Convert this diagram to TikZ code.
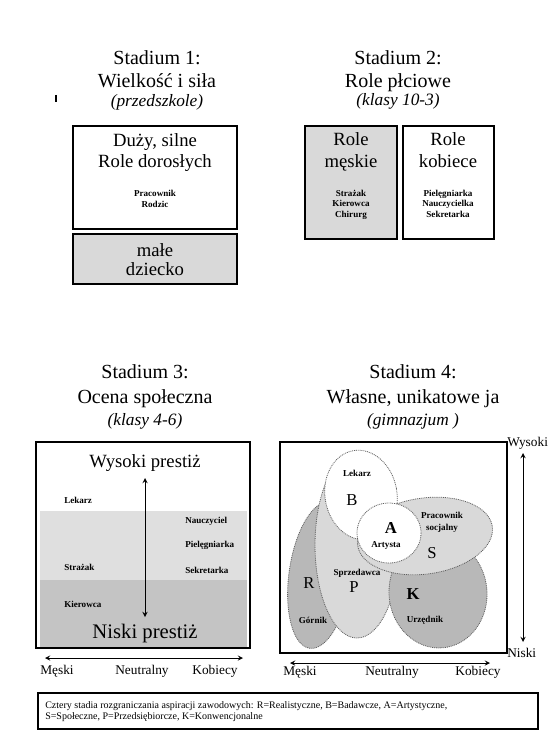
\documentclass[tikz,border=0pt]{standalone}
\usepackage{fontspec}
\setmainfont{Liberation Serif}
\usepackage{tikz}
\definecolor{lite}{RGB}{217, 217, 217}
\definecolor{band}{RGB}{223, 223, 223}
\definecolor{deep}{RGB}{196, 196, 196}
\definecolor{dark}{RGB}{184, 184, 184}
\definecolor{rim}{RGB}{95, 95, 95}

\begin{document}
\begin{tikzpicture}[
   x=0.75pt, y=-0.75pt,
   every node/.style={anchor=base, inner sep=0},
   head/.style={font=\fontsize{15}{18}\selectfont},
   grade/.style={font=\fontsize{13}{15}\selectfont\itshape},
   role/.style={font=\fontsize{14}{16}\selectfont},
   job/.style={font=\fontsize{6.8}{8}\selectfont\bfseries},
   axis/.style={font=\fontsize{10}{12}\selectfont},
   code/.style={font=\fontsize{12.5}{14}\selectfont, anchor=center},
   tag/.style={font=\fontsize{6.8}{8}\selectfont\bfseries, anchor=center},
   plate/.style={draw=black, line width=0.9},
   blob/.style={draw=rim, line width=0.6, dash pattern=on 0.7pt off 0.7pt}
  ]

  \useasboundingbox (0, 0) rectangle (551, 734);

  % Stadium 1
  \begin{scope}
    \node (st1) [head] at (157, 65) {Stadium 1:};
    \node (nm1) [head] at (157, 88) {Wielkość i siła};
    \node (ag1) [grade] at (157, 107) {(przedszkole)};
    \draw[line width=1.5] (56, 95) -- (56, 102);

    \draw[plate] (73, 126) rectangle (237, 229);
    \node (duzy) [role] at (155, 147) {Duży, silne};
    \node (doro) [role] at (155, 168) {Role dorosłych};
    \node (prac) [job] at (155, 197) {Pracownik};
    \node (rodz) [job] at (155, 208) {Rodzic};

    \draw[plate, fill=lite] (73, 234) rectangle (237, 284);
    \node (male) [role] at (155, 256) {małe};
    \node (dzie) [role] at (155, 275) {dziecko};
  \end{scope}

  % Stadium 2
  \begin{scope}
    \node (st2) [head] at (398, 65) {Stadium 2:};
    \node (nm2) [head] at (398, 88) {Role płciowe};
    \node (ag2) [grade] at (398, 106) {(klasy 10-3)};

    \draw[plate, fill=lite] (305, 126) rectangle (397, 239);
    \node (rm1) [role] at (351, 146) {Role};
    \node (rm2) [role] at (351, 168) {męskie};
    \node (stz) [job] at (351, 196) {Strażak};
    \node (kie) [job] at (351, 207) {Kierowca};
    \node (chi) [job] at (351, 218) {Chirurg};

    \draw[plate] (403, 126) rectangle (494, 239);
    \node (rk1) [role] at (448, 146) {Role};
    \node (rk2) [role] at (448, 168) {kobiece};
    \node (pie) [job] at (448, 196) {Pielęgniarka};
    \node (nau) [job] at (448, 207) {Nauczycielka};
    \node (sek) [job] at (448, 218) {Sekretarka};
  \end{scope}

  % Stadium 3
  \begin{scope}
    \node (st3) [head] at (145, 378) {Stadium 3:};
    \node (nm3) [head] at (145, 403) {Ocena społeczna};
    \node (ag3) [grade] at (145, 425) {(klasy 4-6)};

    \fill[band] (40, 511) rectangle (247, 580);
    \fill[deep] (40, 580) rectangle (247, 648);
    \draw[plate] (36, 442) rectangle (250, 648);

    \node (wys3) [role] at (145, 467) {Wysoki prestiż};
    \node (nis3) [role, font=\fontsize{15.5}{17}\selectfont] at (145, 638) {Niski prestiż};

    \node (lek3) [job, anchor=base west] at (64, 503) {Lekarz};
    \node (stz3) [job, anchor=base west] at (64, 570) {Strażak};
    \node (kie3) [job, anchor=base west] at (64, 607) {Kierowca};
    \node (nau3) [job, anchor=base west] at (185, 523) {Nauczyciel};
    \node (pie3) [job, anchor=base west] at (185, 547) {Pielęgniarka};
    \node (sek3) [job, anchor=base west] at (185, 573) {Sekretarka};

    \coordinate (s3up) at (145, 478);
    \coordinate (s3dn) at (145, 617);
    \coordinate (s3l) at (45, 658);
    \coordinate (s3r) at (243, 658);

    \node (me3) [axis] at (57, 674) {Męski};
    \node (ne3) [axis] at (142, 674) {Neutralny};
    \node (ko3) [axis] at (215, 674) {Kobiecy};
  \end{scope}

  % Stadium 4
  \begin{scope}
    \node (st4) [head] at (413, 378) {Stadium 4:};
    \node (nm4) [head] at (413, 403) {Własne, unikatowe ja};
    \node (ag4) [grade] at (413, 425) {(gimnazjum )};

    \draw[plate] (280, 442) rectangle (507, 653);

    % types, back to front
    \filldraw[blob, fill=dark, rotate around={-8:(320, 575)}] (320, 575) ellipse (31 and 74);
    \filldraw[blob, fill=lite] (357, 545) ellipse (42 and 93);
    \filldraw[blob, fill=white, rotate around={10:(361, 495)}] (361, 495) ellipse (36 and 45);
    \filldraw[blob, fill=dark, rotate around={5:(438, 593)}] (438, 593) ellipse (49 and 55);
    \filldraw[blob, fill=lite, rotate around={8:(425, 536)}] (425, 536) ellipse (68 and 38);
    \filldraw[blob, fill=white] (389, 533) ellipse (32 and 30);

    \node (lek4) [tag] at (357, 473) {Lekarz};
    \node (tB) [code] at (352, 500) {B};
    \node (tA) [code, font=\fontsize{12.5}{14}\selectfont\bfseries] at (391, 528) {A};
    \node (art) [tag] at (386, 545) {Artysta};
    \node (pc1) [tag] at (442, 515) {Pracownik};
    \node (pc2) [tag] at (442, 528) {socjalny};
    \node (tS) [code] at (432, 553) {S};
    \node (spr) [tag] at (357, 573) {Sprzedawca};
    \node (tP) [code] at (354, 587) {P};
    \node (tR) [code] at (309, 583) {R};
    \node (tK) [code, font=\fontsize{12.5}{14}\selectfont\bfseries] at (413, 594) {K};
    \node (gor) [tag] at (313, 620) {Górnik};
    \node (urz) [tag] at (425, 620) {Urzędnik};

    \node (wys4) [axis, anchor=base west] at (507, 446) {Wysoki};
    \node (nis4) [axis, anchor=base west] at (507, 657) {Niski};

    \coordinate (s4up) at (523, 453);
    \coordinate (s4dn) at (523, 642);
    \coordinate (s4l) at (290, 663);
    \coordinate (s4r) at (490, 663);

    \node (me4) [axis] at (300, 675) {Męski};
    \node (ne4) [axis] at (392, 675) {Neutralny};
    \node (ko4) [axis] at (478, 675) {Kobiecy};
  \end{scope}

  \foreach \B/\E in {s3up/s3dn, s3l/s3r, s4up/s4dn, s4l/s4r} {
    \draw[<->, >=stealth, line width=0.75] (\B) -- (\E);
  }

  % Legenda
  \draw[plate, line width=0.8] (38, 693) rectangle (538, 729);
  \node (lg1) [anchor=base west, font=\fontsize{7.5}{9}\selectfont] at (45, 708)
    {Cztery stadia rozgraniczania aspiracji zawodowych: R=Realistyczne, B=Badawcze, A=Artystyczne,};
  \node (lg2) [anchor=base west, font=\fontsize{7.5}{9}\selectfont] at (45, 719)
    {S=Społeczne, P=Przedsiębiorcze, K=Konwencjonalne};

\end{tikzpicture}
\end{document}
